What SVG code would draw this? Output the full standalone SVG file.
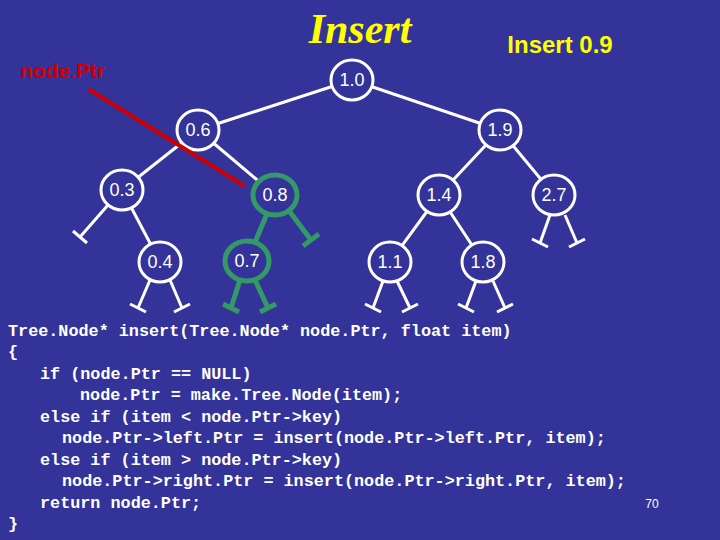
<svg xmlns="http://www.w3.org/2000/svg" width="720" height="540" viewBox="0 0 720 540">
<style>
.n ellipse{fill:#333399;stroke:#fff;stroke-width:3}
.g ellipse{stroke:#339966;stroke-width:5}
.n text{font-family:"Liberation Sans",Arial,sans-serif;font-size:18px;fill:#fff;text-anchor:middle}
.e line{stroke:#fff;stroke-width:3}
.e .gr{stroke:#339966;stroke-width:5}
.code{font-family:"Liberation Mono",monospace;font-weight:bold;font-size:16.8px;fill:#fff}
</style>
<rect width="720" height="540" fill="#333399"/>
<text x="360" y="43" font-family="Liberation Serif,serif" font-style="italic" font-weight="bold" font-size="42" fill="#ffff00" text-anchor="middle">Insert</text>
<text x="560" y="53" font-family="Liberation Sans,sans-serif" font-weight="bold" font-size="24" fill="#ffff00" text-anchor="middle">Insert 0.9</text>
<text x="20" y="78" font-family="Liberation Sans,sans-serif" font-weight="bold" font-size="21" fill="#cc0000">node.Ptr</text>
<g class="e" id="connectors">
<line x1="352" y1="80" x2="198" y2="130"/>
<line x1="352" y1="80" x2="500" y2="130"/>
<line x1="198" y1="130" x2="122" y2="190"/>
<line x1="198" y1="130" x2="275" y2="195"/>
<line x1="500" y1="130" x2="439" y2="195"/>
<line x1="500" y1="130" x2="554" y2="195"/>
<line x1="122" y1="190" x2="160" y2="262"/>
<line x1="439" y1="195" x2="390" y2="262"/>
<line x1="439" y1="195" x2="483" y2="262"/>
<line class="gr" x1="275" y1="195" x2="247" y2="261"/>
<line x1="108" y1="205" x2="80" y2="237"/><line x1="73" y1="231" x2="87" y2="243"/>
<line x1="150" y1="280" x2="138" y2="308"/><line x1="130" y1="304" x2="146" y2="312"/>
<line x1="170" y1="280" x2="182" y2="308"/><line x1="174" y1="312" x2="190" y2="304"/>
<line class="gr" x1="240" y1="280" x2="231" y2="308"/><line class="gr" x1="223" y1="304" x2="239" y2="312"/>
<line class="gr" x1="255" y1="280" x2="268" y2="308"/><line class="gr" x1="260" y1="312" x2="276" y2="304"/>
<line class="gr" x1="290" y1="212" x2="311" y2="240"/><line class="gr" x1="303" y1="246" x2="319" y2="234"/>
<line x1="550" y1="215" x2="540" y2="243"/><line x1="532" y1="239" x2="548" y2="247"/>
<line x1="565" y1="215" x2="577" y2="243"/><line x1="569" y1="247" x2="585" y2="239"/>
<line x1="383" y1="281" x2="373" y2="308"/><line x1="365" y1="304" x2="381" y2="312"/>
<line x1="397" y1="281" x2="410" y2="308"/><line x1="402" y1="312" x2="418" y2="304"/>
<line x1="476" y1="281" x2="466" y2="308"/><line x1="458" y1="304" x2="474" y2="312"/>
<line x1="493" y1="281" x2="505" y2="308"/><line x1="497" y1="312" x2="513" y2="304"/>
</g>
<g class="n" id="n10"><ellipse cx="352" cy="80" rx="21" ry="20"/><text x="352" y="86">1.0</text></g>
<g class="n" id="n06"><ellipse cx="198" cy="130" rx="21" ry="20"/><text x="198" y="136">0.6</text></g>
<g class="n" id="n19"><ellipse cx="500" cy="130" rx="21" ry="20"/><text x="500" y="136">1.9</text></g>
<g class="n" id="n03"><ellipse cx="122" cy="190" rx="21" ry="20"/><text x="122" y="196">0.3</text></g>
<g class="n g" id="n08"><ellipse cx="275" cy="195" rx="22" ry="20"/><text x="275" y="201">0.8</text></g>
<g class="n" id="n14"><ellipse cx="439" cy="195" rx="21" ry="20"/><text x="439" y="201">1.4</text></g>
<g class="n" id="n27"><ellipse cx="554" cy="195" rx="21" ry="20"/><text x="554" y="201">2.7</text></g>
<g class="n" id="n04"><ellipse cx="160" cy="262" rx="21" ry="20"/><text x="160" y="268">0.4</text></g>
<g class="n g" id="n07"><ellipse cx="247" cy="261" rx="22" ry="20"/><text x="247" y="267">0.7</text></g>
<g class="n" id="n11"><ellipse cx="390" cy="262" rx="21" ry="20"/><text x="390" y="268">1.1</text></g>
<g class="n" id="n18"><ellipse cx="483" cy="262" rx="21" ry="20"/><text x="483" y="268">1.8</text></g>
<line x1="90" y1="90" x2="243" y2="185" stroke="#cc0000" stroke-width="4" stroke-linecap="round"/>
<g class="code">
<text x="8" y="336">Tree.Node* insert(Tree.Node* node.Ptr, float item)</text>
<text x="8" y="357">{</text>
<text x="40" y="379">if (node.Ptr == NULL)</text>
<text x="80" y="400">node.Ptr = make.Tree.Node(item);</text>
<text x="40" y="422">else if (item &lt; node.Ptr-&gt;key)</text>
<text x="62" y="443">node.Ptr-&gt;left.Ptr = insert(node.Ptr-&gt;left.Ptr, item);</text>
<text x="40" y="465">else if (item &gt; node.Ptr-&gt;key)</text>
<text x="62" y="486">node.Ptr-&gt;right.Ptr = insert(node.Ptr-&gt;right.Ptr, item);</text>
<text x="40" y="508">return node.Ptr;</text>
<text x="8" y="529">}</text>
</g>
<text x="652" y="508" font-family="Liberation Sans,sans-serif" font-size="12" fill="#fff" text-anchor="middle">70</text>
</svg>
